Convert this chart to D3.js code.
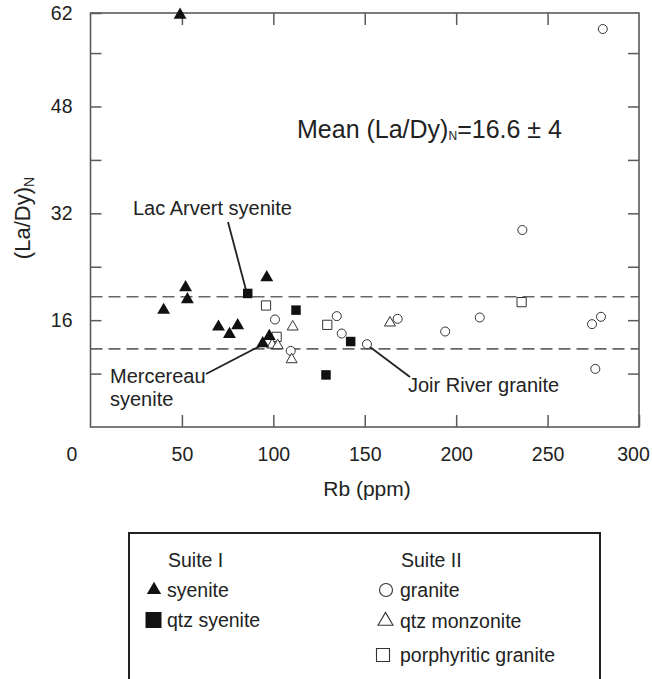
<!DOCTYPE html>
<html>
<head>
<meta charset="utf-8">
<script src="https://cdn.jsdelivr.net/npm/d3@7/dist/d3.min.js"></script>
<style>
  body { margin: 0; background: #fff; }
  svg { display: block; font-family: "Liberation Sans", Arial, sans-serif; }
</style>
</head>
<body>
<svg id="chart" width="652" height="679"></svg>
<script>
// ---- data (Rb ppm, (La/Dy)N) ----
const syeniteX = [49, 40, 52, 53, 70, 76, 80.5, 96.4, 97.8, 94.2];
const syeniteY = [61.7, 17.5, 20.9, 19.1, 15.0, 13.9, 15.2, 22.4, 13.6, 12.5];
const qtzSyeniteX = [86, 112.4, 142.3, 128.8];
const qtzSyeniteY = [20.0, 17.5, 12.8, 7.8];
const graniteX = [280.2, 236.2, 100.9, 109.5, 134.7, 137.4, 151.2, 168.0, 194, 212.9, 274.3, 279.2, 276.1];
const graniteY = [59.6, 29.5, 16.1, 11.4, 16.6, 14.0, 12.4, 16.2, 14.3, 16.4, 15.4, 16.5, 8.7];
const qtzMonzoniteX = [110.6, 110.0, 99.4, 102.4, 163.8];
const qtzMonzoniteY = [15.0, 10.1, 12.3, 12.2, 15.6];
const porphyriticX = [96, 101.8, 129.5, 235.8];
const porphyriticY = [18.2, 13.5, 15.3, 18.7];
const meanBand = [11.7, 19.5];
const xTicks = [50, 100, 150, 200, 250, 300];
const yLabelTicks = [16, 32, 48, 62];
const yMinorTicks = [8, 24, 40, 56];

const svg = d3.select("#chart");
const L = 90.5, R = 639, T = 13, B = 427;
const x = d3.scaleLinear().domain([0, 300]).range([L, R]);
const y = d3.scaleLinear().domain([0, 62]).range([B, T]);
const frameCol = "#5a5a5a", textCol = "#222";

// mean band dashed lines
svg.selectAll("line.band").data(meanBand).join("line")
  .attr("x1", L).attr("x2", R)
  .attr("y1", d => y(d)).attr("y2", d => y(d))
  .attr("stroke", "#666").attr("stroke-width", 1.6)
  .attr("stroke-dasharray", "12,6");

// axes
function styleAxis(g) {
  g.select(".domain").remove();
  g.selectAll(".tick line").attr("stroke", frameCol).attr("stroke-width", 1.5);
  g.selectAll(".tick text").attr("fill", textCol).style("font-size", "19.5px")
    .style("font-family", "Liberation Sans, Arial, sans-serif");
}
const xb = svg.append("g").attr("transform", `translate(0,${B})`)
  .call(d3.axisBottom(x).tickValues(xTicks).tickSize(-12).tickPadding(20).tickFormat(d3.format("d")))
  .call(styleAxis);
xb.selectAll(".tick text").filter(d => d === 300).attr("dx", -6);
svg.append("g").attr("transform", `translate(0,${T})`)
  .call(d3.axisTop(x).tickValues(xTicks.slice(0, 5)).tickSize(-12).tickFormat(""))
  .call(styleAxis);
svg.append("g").attr("transform", `translate(${L},0)`)
  .call(d3.axisLeft(y).tickValues(yMinorTicks.concat(yLabelTicks).sort((a,b)=>a-b))
    .tickSize(-11).tickPadding(18)
    .tickFormat(d => yLabelTicks.includes(d) ? d : ""))
  .call(styleAxis);
svg.append("g").attr("transform", `translate(${R},0)`)
  .call(d3.axisRight(y).tickValues([8, 16, 24, 32, 40, 48, 56]).tickSize(-11).tickFormat(""))
  .call(styleAxis);

// frame
svg.append("rect").attr("x", L).attr("y", T).attr("width", R - L).attr("height", B - T)
  .attr("fill", "none").attr("stroke", frameCol).attr("stroke-width", 1.6);

// origin label
svg.append("text").attr("x", 72).attr("y", 461).attr("text-anchor", "middle")
  .attr("fill", textCol).style("font-size", "19.5px").text("0");

// axis titles
svg.append("text").attr("x", 367).attr("y", 496).attr("text-anchor", "middle")
  .attr("fill", textCol).style("font-size", "21px").text("Rb (ppm)");
const yt = svg.append("text").attr("transform", "translate(30,218) rotate(-90)")
  .attr("text-anchor", "middle").attr("fill", textCol).style("font-size", "22px");
yt.append("tspan").text("(La/Dy)");
yt.append("tspan").attr("dy", 4).style("font-size", "14px").text("N");

// mean annotation
const mt = svg.append("text").attr("x", 297).attr("y", 138).attr("fill", textCol).style("font-size", "25px");
mt.append("tspan").text("Mean (La/Dy)");
mt.append("tspan").attr("dy", 2).style("font-size", "12px").text("N");
mt.append("tspan").attr("dy", -2).text("=16.6 ± 4");

// leader lines and labels
const leaders = [[228, 222, 246, 290], [206, 374, 262, 345], [370, 347, 410, 377]];
svg.selectAll("line.lead").data(leaders).join("line")
  .attr("x1", d => d[0]).attr("y1", d => d[1]).attr("x2", d => d[2]).attr("y2", d => d[3])
  .attr("stroke", "#222").attr("stroke-width", 1.8);
const ann = (tx, ty, s) => svg.append("text").attr("x", tx).attr("y", ty).attr("fill", textCol).style("font-size", "20px").text(s);
ann(133, 215, "Lac Arvert syenite");
ann(110, 383, "Mercereau");
ann(110, 406, "syenite");
ann(408, 392, "Joir River granite");

// markers
function plot(xs, ys, type, size, filled) {
  const sym = d3.symbol().type(type).size(size);
  svg.append("g").selectAll("path").data(xs.map((v, i) => [v, ys[i]])).join("path")
    .attr("transform", d => `translate(${x(d[0])},${y(d[1])})`)
    .attr("d", sym)
    .attr("fill", filled ? "#111" : "#fff")
    .attr("stroke", filled ? "none" : "#333")
    .attr("stroke-width", 1);
}
plot(graniteX, graniteY, d3.symbolCircle, 64, false);
plot(porphyriticX, porphyriticY, d3.symbolSquare, 85, false);
plot(qtzMonzoniteX, qtzMonzoniteY, d3.symbolTriangle, 52, false);
plot(qtzSyeniteX, qtzSyeniteY, d3.symbolSquare, 90, true);
plot(syeniteX, syeniteY, d3.symbolTriangle, 72, true);

// legend
svg.append("rect").attr("x", 129).attr("y", 533).attr("width", 471).attr("height", 200)
  .attr("fill", "none").attr("stroke", "#222").attr("stroke-width", 2);
const lt = (tx, ty, s) => svg.append("text").attr("x", tx).attr("y", ty).attr("fill", textCol).style("font-size", "19.5px").text(s);
lt(168, 567, "Suite I");
lt(401, 567, "Suite II");
const legendItems = [
  {label: "syenite", type: d3.symbolTriangle, size: 88, filled: true, cx: 154, cy: 590, tx: 167},
  {label: "qtz syenite", type: d3.symbolSquare, size: 256, filled: true, cx: 153.5, cy: 620, tx: 167},
  {label: "granite", type: d3.symbolCircle, size: 133, filled: false, cx: 386, cy: 590, tx: 400},
  {label: "qtz monzonite", type: d3.symbolTriangle, size: 97, filled: false, cx: 385.5, cy: 621, tx: 400},
  {label: "porphyritic granite", type: d3.symbolSquare, size: 169, filled: false, cx: 383, cy: 655, tx: 400}
];
legendItems.forEach(it => {
  svg.append("path").attr("transform", `translate(${it.cx},${it.cy})`)
    .attr("d", d3.symbol().type(it.type).size(it.size)())
    .attr("fill", it.filled ? "#111" : "#fff").attr("stroke", it.filled ? "none" : "#333").attr("stroke-width", 1.1);
  lt(it.tx, it.cy + 7, it.label);
});
</script>
</body>
</html>
